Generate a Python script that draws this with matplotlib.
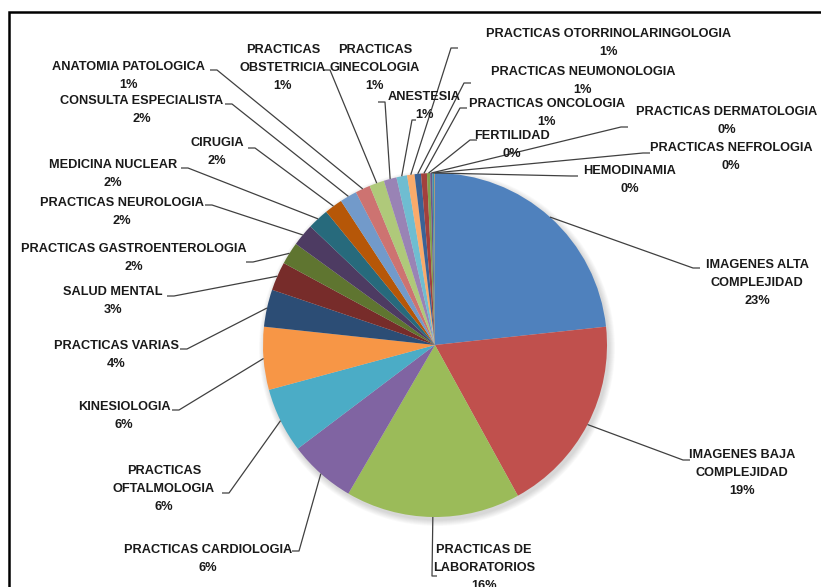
import numpy as np
import matplotlib
matplotlib.use("Agg")
import matplotlib.pyplot as plt
from matplotlib.patches import Circle

# slice names (reading clockwise from 12 o'clock) and shares in %
names = ['IMAGENES ALTA\nCOMPLEJIDAD', 'IMAGENES BAJA\nCOMPLEJIDAD', 'PRACTICAS DE\nLABORATORIOS',
         'PRACTICAS CARDIOLOGIA', 'PRACTICAS\nOFTALMOLOGIA', 'KINESIOLOGIA',
         'PRACTICAS VARIAS', 'SALUD MENTAL', 'PRACTICAS GASTROENTEROLOGIA',
         'PRACTICAS NEUROLOGIA', 'MEDICINA NUCLEAR', 'CIRUGIA',
         'CONSULTA ESPECIALISTA', 'ANATOMIA PATOLOGICA', 'PRACTICAS\nOBSTETRICIA',
         'PRACTICAS\nGINECOLOGIA', 'ANESTESIA', 'PRACTICAS OTORRINOLARINGOLOGIA',
         'PRACTICAS NEUMONOLOGIA', 'PRACTICAS ONCOLOGIA', 'FERTILIDAD',
         'PRACTICAS DERMATOLOGIA', 'PRACTICAS NEFROLOGIA', 'HEMODINAMIA']
values = [23.3, 18.7, 16.4, 6.3, 6.1, 5.9, 3.5, 2.7, 2.1, 2.1, 2.0, 1.7,
          1.6, 1.4, 1.4, 1.2, 1.0, 0.7, 0.6, 0.55, 0.3, 0.2, 0.2, 0.05]

# Excel 2010 default palette, plus darker / lighter variants
colors = ['#4F81BD', '#C0504D', '#9BBB59', '#8064A2', '#4BACC6', '#F79646',
          '#2C4D75', '#772C2A', '#5F7530', '#4D3B62', '#276A7C', '#B65708',
          '#729ACA', '#CD7371', '#AFC97A', '#9983B5', '#6FBDD1', '#F9AB6B',
          '#3A6296', '#A2403D', '#82A04A', '#6B548A', '#3D93AA', '#D47E38']

# label layout in pixels (top-left origin): text centre and leader anchor
label_xy = [(757, 283), (742, 473), (484, 568), (208, 559), (164, 489), (124, 416),
            (116, 355), (113, 301), (134, 258), (122, 212), (113, 174), (217, 152),
            (142, 110), (128, 76), (283, 68), (375, 68), (424, 106), (609, 43),
            (583, 81), (547, 113), (512, 145), (727, 121), (731, 157), (630, 180)]
anchor_xy = [(700, 268), (690, 460), (437, 576), (292, 551), (222, 493), (172, 410),
             (180, 349), (167, 296), (246, 262), (205, 205), (181, 168), (248, 148),
             (225, 104), (210, 70), (323, 70), (378, 102), (416, 120), (458, 48),
             (471, 83), (467, 108), (477, 140), (628, 127), (650, 153), (578, 176)]
tick = [7, 7, 5, 7, 7, 7, 7, 7, 7, 7, 7, 7, 7, 7, 7, 7, 4, 7, 7, 7, 7, 7, 7, 7]

W, H = 821, 587
cx, cy, r = 435, 345, 172

fig = plt.figure(figsize=(W / 100, H / 100), dpi=100)
ax = fig.add_axes([0, 0, 1, 1])

# soft shadow under the pie
for k in range(8):
    ax.add_patch(Circle((cx + 2, H - cy - 3), r + 6 - k * 0.8, color='black',
                        alpha=0.018, lw=0, zorder=0))

ax.pie(values, colors=colors, startangle=90, counterclock=False,
       center=(cx, H - cy), radius=r, wedgeprops=dict(linewidth=0))

total = sum(values)
cum = np.cumsum([0] + values[:-1])
for i, name in enumerate(names):
    theta = np.radians(360 * (cum[i] + values[i] / 2) / total)
    ex, ey = cx + r * np.sin(theta), H - cy + r * np.cos(theta)
    axx, ayy = anchor_xy[i]
    tx, ty = label_xy[i]
    elbow = axx - tick[i] if axx < tx else axx + tick[i]
    ax.plot([ex, elbow, axx], [ey, H - ayy, H - ayy], color='#404040', lw=0.9,
            solid_capstyle='butt', zorder=3)
    txt = '%s\n%.0f%%' % (name, values[i] / total * 100)
    ax.text(tx, H - ty, txt, ha='center', va='center', multialignment='center',
            fontsize=9.2, fontweight='bold', color='#1a1a1a', linespacing=1.62,
            family='Liberation Sans', zorder=4)

# chart border (runs off the right and bottom edges)
ax.plot([9, 9, W + 5], [-5, H - 12, H - 12], color='black', lw=1.8,
        solid_joinstyle='miter', clip_on=False)

ax.set_xlim(0, W)
ax.set_ylim(0, H)
ax.set_aspect('auto')
ax.axis('off')

plt.savefig('out.png', dpi=100)
plt.close()
